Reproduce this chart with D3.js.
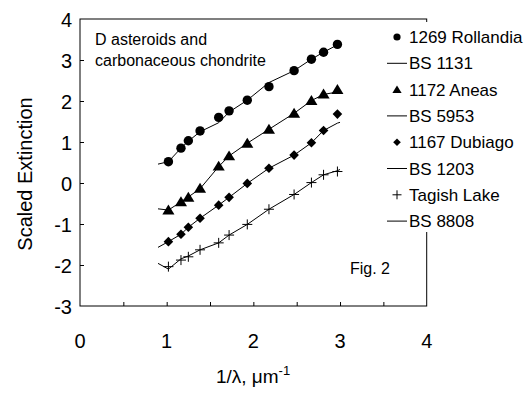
<!DOCTYPE html>
<html>
<head>
<meta charset="utf-8">
<script src="https://cdn.jsdelivr.net/npm/d3@7"></script>
<style>
  body { margin: 0; background: #fff; }
  text { font-family: Arial, "Liberation Sans", sans-serif; fill: #000; }
</style>
</head>
<body>
<div id="chart"></div>
<script>
// wavenumbers of the asteroid points, 1/um
const waveX = [1.02, 1.165, 1.25, 1.385, 1.60, 1.72, 1.93, 2.18, 2.47, 2.67, 2.81, 2.97];
const rollandia = [0.52, 0.85, 1.03, 1.27, 1.60, 1.76, 2.02, 2.35, 2.74, 3.02, 3.19, 3.38];
const aneas = [-0.66, -0.46, -0.35, -0.13, 0.41, 0.66, 0.97, 1.31, 1.70, 2.01, 2.17, 2.28];
const dubiago = [-1.43, -1.25, -1.08, -0.86, -0.54, -0.35, -0.01, 0.36, 0.68, 0.98, 1.28, 1.68];
const tagish = [-2.04, -1.88, -1.80, -1.63, -1.46, -1.27, -1.01, -0.64, -0.28, 0.01, 0.20, 0.28];

// BS spectra (lines)
const bsX = [0.90, 1.02, 1.165, 1.25, 1.385, 1.60, 1.72, 1.93, 2.18, 2.47, 2.67, 2.81, 2.97, 3.0];
const bs1131 = [0.46, 0.52, 0.85, 1.02, 1.25, 1.47, 1.73, 2.02, 2.45, 2.74, 3.02, 3.19, 3.37, 3.40];
const bs5953 = [-0.63, -0.66, -0.46, -0.34, -0.14, 0.40, 0.66, 0.97, 1.31, 1.70, 2.01, 2.16, 2.22, 2.22];
const bs1203 = [-1.57, -1.43, -1.25, -1.08, -0.86, -0.54, -0.35, -0.01, 0.36, 0.68, 0.98, 1.28, 1.46, 1.48];
const bs8808 = [-1.96, -2.10, -1.85, -1.78, -1.63, -1.46, -1.27, -1.01, -0.64, -0.28, 0.01, 0.20, 0.30, 0.33];

const xTicks = [0, 1, 2, 3, 4];
const yTicks = [-3, -2, -1, 0, 1, 2, 3, 4];

const legendNames = ["1269 Rollandia", "BS 1131", "1172 Aneas", "BS 5953",
  "1167 Dubiago", "BS 1203", "Tagish Lake", "BS 8808"];

const width = 527, height = 393;
const margin = { top: 19, right: 100, bottom: 87, left: 80 };

const svg = d3.select("#chart").append("svg")
  .attr("width", width)
  .attr("height", height);

const x = d3.scaleLinear().domain([0, 4]).range([margin.left, 426.7]);
const y = d3.scaleLinear().domain([-3, 4]).range([height - margin.bottom, margin.top]);

// frame
svg.append("rect")
  .attr("x", x(0)).attr("y", y(4))
  .attr("width", x(4) - x(0)).attr("height", y(-3) - y(4))
  .attr("fill", "none").attr("stroke", "#000").attr("stroke-width", 1);

// ticks, inside
svg.append("g")
  .attr("transform", `translate(0,${y(-3)})`)
  .call(d3.axisTop(x).tickValues(d3.range(0.5, 4, 0.5)).tickSize(4).tickFormat(""))
  .call(g => g.select(".domain").remove());
svg.append("g")
  .attr("transform", `translate(${x(0)},0)`)
  .call(d3.axisRight(y).tickValues(yTicks.slice(1, -1)).tickSize(4).tickFormat(""))
  .call(g => g.select(".domain").remove());

svg.selectAll(".xlab").data(xTicks).enter().append("text")
  .attr("x", d => x(d)).attr("y", 348)
  .attr("text-anchor", "middle").attr("font-size", 20)
  .text(d => d);
svg.selectAll(".ylab").data(yTicks).enter().append("text")
  .attr("x", 72).attr("y", d => y(d) + 7.5)
  .attr("text-anchor", "end").attr("font-size", 20)
  .text(d => d);

// axis titles
const xt = svg.append("text")
  .attr("x", 253).attr("y", 383)
  .attr("text-anchor", "middle").attr("font-size", 19);
xt.append("tspan").text("1/λ, μm");
xt.append("tspan").attr("dy", -8).attr("font-size", 13).text("-1");

svg.append("text")
  .attr("transform", `translate(32,174) rotate(-90)`)
  .attr("text-anchor", "middle").attr("font-size", 20)
  .text("Scaled Extinction");

// lines
const line = d3.line().x(d => x(d[0])).y(d => y(d[1]));
[bs1131, bs5953, bs1203, bs8808].forEach(s => {
  svg.append("path")
    .attr("d", line(bsX.map((v, i) => [v, s[i]])))
    .attr("fill", "none").attr("stroke", "#000").attr("stroke-width", 1);
});

// markers
const sym = {
  circle: r => d3.symbol().type(d3.symbolCircle).size(Math.PI * r * r)(),
  triangle: r => `M0,${-r}L${r * 1.1},${r * 0.8}L${-r * 1.1},${r * 0.8}Z`,
  diamond: r => `M0,${-r}L${r},0L0,${r}L${-r},0Z`,
  plus: r => `M${-r},0H${r}M0,${-r}V${r}`
};
const markR = { circle: 4.7, triangle: 5.5, diamond: 4.8, plus: 5 };
function drawPoints(vals, kind) {
  svg.append("g").selectAll("path").data(vals).enter().append("path")
    .attr("transform", (d, i) => `translate(${x(waveX[i])},${y(d)})`)
    .attr("d", sym[kind](markR[kind]))
    .attr("fill", kind === "plus" ? "none" : "#000")
    .attr("stroke", kind === "plus" ? "#000" : "none")
    .attr("stroke-width", 1);
}
drawPoints(rollandia, "circle");
drawPoints(aneas, "triangle");
drawPoints(dubiago, "diamond");
drawPoints(tagish, "plus");

// legend, white box over the frame
svg.append("rect")
  .attr("x", 380).attr("y", 22).attr("width", 147).attr("height", 210)
  .attr("fill", "#fff");
const legendKinds = ["circle", "line", "triangle", "line", "diamond", "line", "plus", "line"];
const legendR = { circle: 3.6, triangle: 4.2, diamond: 3.8, plus: 4.5 };
const lg = svg.append("g").selectAll("g").data(legendNames).enter().append("g")
  .attr("transform", (d, i) => `translate(397,${37 + i * 26.3})`);
lg.each(function (d, i) {
  const g = d3.select(this);
  const k = legendKinds[i];
  if (k === "line") {
    g.append("line").attr("x1", -10).attr("x2", 10)
      .attr("stroke", "#000").attr("stroke-width", 1);
  } else {
    g.append("path").attr("d", sym[k](legendR[k]))
      .attr("fill", k === "plus" ? "none" : "#000")
      .attr("stroke", k === "plus" ? "#000" : "none");
  }
  g.append("text").attr("x", 12).attr("y", 6).attr("font-size", 17).text(d);
});

// annotations
svg.append("text").attr("x", 95).attr("y", 45).attr("font-size", 16).text("D asteroids and");
svg.append("text").attr("x", 95).attr("y", 66).attr("font-size", 16).text("carbonaceous chondrite");
svg.append("text").attr("x", 350).attr("y", 274).attr("font-size", 16).text("Fig. 2");
</script>
</body>
</html>
